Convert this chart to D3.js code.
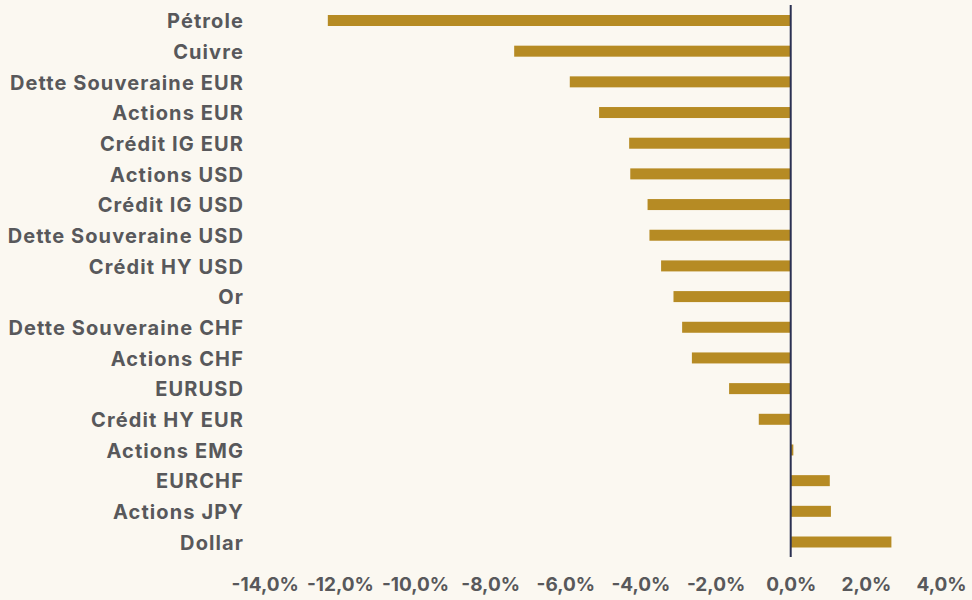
<!DOCTYPE html>
<html>
<head>
<meta charset="utf-8">
<script src="https://cdn.jsdelivr.net/npm/d3@7"></script>
<style>
  html, body { margin: 0; padding: 0; background: #fbf8f1; }
  svg { display: block; }
  text { font-family: "Inter", "Noto Sans", sans-serif; font-weight: 700; fill: #58585b; }
</style>
</head>
<body>
<svg id="chart" width="972" height="600"></svg>
<script>
const categories = [
  "Pétrole", "Cuivre", "Dette Souveraine EUR", "Actions EUR", "Crédit IG EUR",
  "Actions USD", "Crédit IG USD", "Dette Souveraine USD", "Crédit HY USD", "Or",
  "Dette Souveraine CHF", "Actions CHF", "EURUSD", "Crédit HY EUR", "Actions EMG",
  "EURCHF", "Actions JPY", "Dollar"
];
const values = [
  -12.32, -7.36, -5.88, -5.10, -4.30,
  -4.27, -3.81, -3.76, -3.45, -3.12,
  -2.89, -2.63, -1.64, -0.85, 0.07,
  1.04, 1.07, 2.68
];
const tickValues = [-14, -12, -10, -8, -6, -4, -2, 0, 2, 4];

const svg = d3.select("#chart");
const x = d3.scaleLinear().domain([-14, 4]).range([264.7, 941]);
const y = d3.scalePoint().domain(categories).range([20.5, 542]);
const barH = 11;

// bars
svg.append("g").selectAll("rect")
  .data(categories)
  .join("rect")
  .attr("x", (d, i) => x(Math.min(0, values[i])))
  .attr("width", (d, i) => Math.abs(x(values[i]) - x(0)))
  .attr("y", d => y(d) - barH / 2)
  .attr("height", barH)
  .attr("fill", "#b68b24");

// zero line
svg.append("line")
  .attr("x1", x(0)).attr("x2", x(0))
  .attr("y1", 5).attr("y2", 557)
  .attr("stroke", "#2b3152").attr("stroke-width", 2);

// category labels
const yAxis = d3.axisLeft(y).tickSize(0).tickPadding(0);
const gy = svg.append("g").attr("transform", "translate(244,0)").call(yAxis);
gy.select(".domain").remove();
gy.selectAll("text")
  .attr("font-size", 20)
  .attr("dy", "0.36em")
  .style("font-family", "Inter, 'Noto Sans', sans-serif")
  .style("font-weight", 700)
  .style("letter-spacing", "1.1px")
  .attr("fill", "#575759");

// x axis labels
const fmt = v => d3.format(".1f")(v).replace(".", ",").replace("−", "-") + "%";
const xAxis = d3.axisBottom(x).tickValues(tickValues).tickSize(0).tickPadding(0).tickFormat(fmt);
const gx = svg.append("g").attr("transform", "translate(0,577)").call(xAxis);
gx.select(".domain").remove();
gx.selectAll("text")
  .attr("font-size", 19)
  .attr("dy", "0.71em")
  .style("font-family", "Inter, 'Noto Sans', sans-serif")
  .style("font-weight", 700)
  .attr("fill", "#575759");
</script>
</body>
</html>
